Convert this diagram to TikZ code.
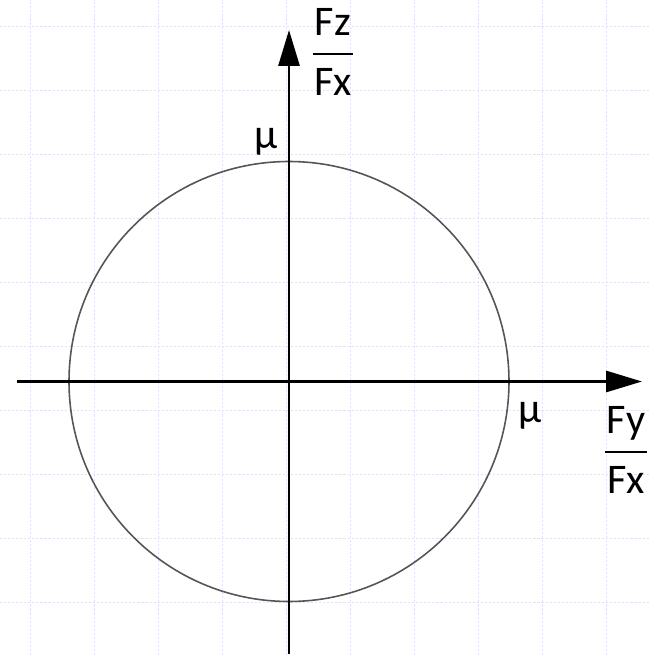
\documentclass[tikz,border=0pt]{standalone}
\usepackage{amsmath}
\usepackage{fontspec}
\setmainfont{Carlito}
\usetikzlibrary{arrows.meta}
\definecolor{gridline}{HTML}{E2E2F6}
\definecolor{ringline}{HTML}{555555}
\newcommand{\ratio}[2]{$\genfrac{}{}{1.1pt}{0}{\text{\kern1pt#1\kern1pt}}{\text{#2}}$}
\tikzset{
  grid line/.style={
    gridline,
    line width=0.6pt,
    dash pattern=on 1.2pt off 1.1pt
  },
  axis arrow/.style={
    -{Triangle[length=0.72cm, width=0.42cm]},
    line width=1.7pt,
    color=black
  },
  friction circle/.style={
    draw=ringline,
    line width=0.9pt
  },
  axis label/.style={
    font=\fontsize{24}{28}\selectfont,
    inner sep=0pt
  }
}

\begin{document}
\begin{tikzpicture}[x=0.02cm, y=0.02cm]
  \useasboundingbox[fill=white] (-289,-273.5) rectangle (361,381.5);

  % Grid
  \foreach \x in {0,1,...,9} {
    \draw[grid line] (-258.3+64*\x, -273.5) -- (-258.3+64*\x, 381.5);
  }
  \foreach \y in {0,1,...,9} {
    \draw[grid line] (-289, 354.8-64*\y) -- (361, 354.8-64*\y);
  }

  % Friction circle
  \coordinate (origin) at (0,0);
  \draw[friction circle] (origin) circle[radius=220];

  % Axes
  \coordinate (west) at (-272,0);
  \coordinate (east) at (353,0);
  \coordinate (south) at (0,-272.5);
  \coordinate (north) at (0,351.5);
  \draw[axis arrow] (west) -- (east);
  \draw[axis arrow] (south) -- (north);

  % Labels
  \node[axis label] (fzfx) at (44, 329.5) {\ratio{Fz}{Fx}};
  \node[axis label] (fyfx) at (337, -68.5) {\ratio{Fy}{Fx}};
  \node[axis label] (muz) at (-23, 239.5) {μ};
  \node[axis label] (muy) at (241, -34.5) {μ};
\end{tikzpicture}
\end{document}
